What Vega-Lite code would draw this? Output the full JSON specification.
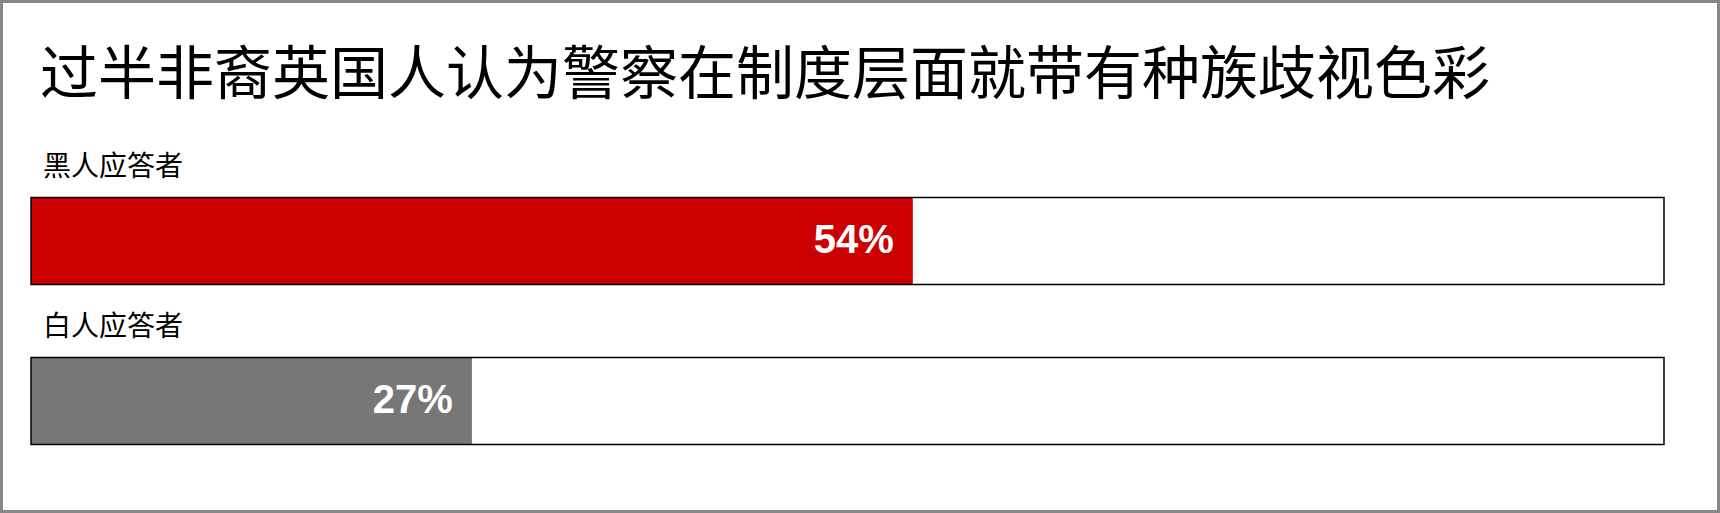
{
  "$schema": "https://vega.github.io/schema/vega-lite/v6.json",
  "width": 1720,
  "height": 513,
  "autosize": {"type": "fit", "contains": "padding"},
  "padding": 0,
  "background": "white",
  "config": {
    "view": {"stroke": "#888888", "strokeWidth": 6},
    "font": "Noto Sans CJK SC"
  },
  "datasets": {
    "bars": [
      {"group": "黑人应答者", "pct": 0.54, "total": 1},
      {"group": "白人应答者", "pct": 0.27, "total": 1}
    ],
    "heading": [
      {"title": "过半非裔英国人认为警察在制度层面就带有种族歧视色彩", "group": "黑人应答者"}
    ]
  },
  "data": {"name": "bars"},
  "encoding": {
    "y": {
      "field": "group",
      "type": "nominal",
      "sort": null,
      "axis": null,
      "scale": {
        "domain": ["黑人应答者", "白人应答者"],
        "paddingInner": 0.456,
        "paddingOuter": 0.831,
        "align": 0.7425
      }
    }
  },
  "layer": [
    {
      "mark": {"type": "bar", "fill": "white"},
      "encoding": {
        "x": {
          "field": "total",
          "type": "quantitative",
          "axis": null,
          "scale": {"domain": [-0.019, 1.0343], "nice": false, "zero": false}
        },
        "x2": {"datum": 0}
      }
    },
    {
      "mark": {"type": "bar"},
      "encoding": {
        "x": {"field": "pct", "type": "quantitative"},
        "x2": {"datum": 0},
        "color": {
          "field": "group",
          "type": "nominal",
          "legend": null,
          "scale": {"domain": ["黑人应答者", "白人应答者"], "range": ["#cc0000", "#777777"]}
        }
      }
    },
    {
      "mark": {"type": "bar", "fillOpacity": 0, "stroke": "black", "strokeWidth": 1.5},
      "encoding": {
        "x": {"field": "total", "type": "quantitative"},
        "x2": {"datum": 0}
      }
    },
    {
      "mark": {
        "type": "text",
        "align": "right",
        "baseline": "middle",
        "dx": -19,
        "fontSize": 40,
        "fontWeight": "bold",
        "font": "Liberation Sans",
        "color": "white"
      },
      "encoding": {
        "x": {"field": "pct", "type": "quantitative"},
        "text": {"field": "pct", "type": "quantitative", "format": ".0%"}
      }
    },
    {
      "mark": {
        "type": "text",
        "align": "left",
        "baseline": "middle",
        "dx": 12,
        "yOffset": -73,
        "fontSize": 28,
        "color": "black",
        "font": "Noto Sans CJK SC"
      },
      "encoding": {
        "x": {"datum": 0},
        "text": {"field": "group"}
      }
    },
    {
      "data": {"name": "heading"},
      "mark": {
        "type": "text",
        "align": "left",
        "baseline": "middle",
        "dx": 9,
        "yOffset": -164,
        "fontSize": 58,
        "color": "black",
        "font": "Noto Sans CJK SC"
      },
      "encoding": {
        "x": {"datum": 0},
        "text": {"field": "title"}
      }
    }
  ]
}
